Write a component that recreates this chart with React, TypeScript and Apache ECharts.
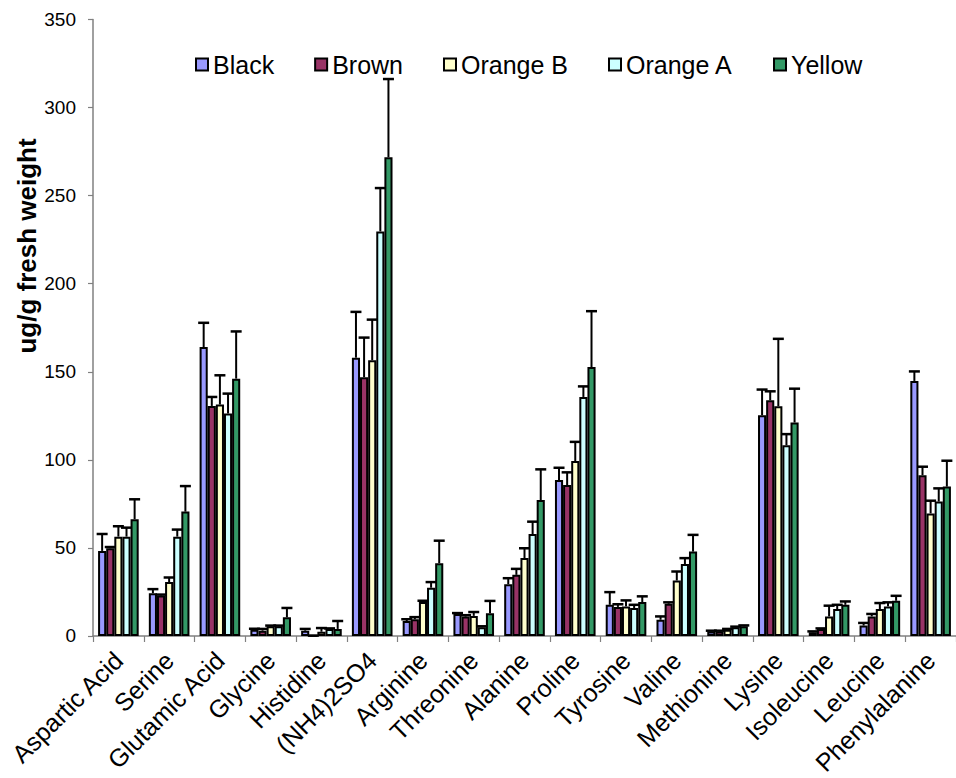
import React, { useEffect, useRef } from "react";
import * as echarts from "echarts";

const categories = [
  "Aspartic Acid", "Serine", "Glutamic Acid", "Glycine", "Histidine", "(NH4)2SO4",
  "Arginine", "Threonine", "Alanine", "Proline", "Tyrosine", "Valine",
  "Methionine", "Lysine", "Isoleucine", "Leucine", "Phenylalanine",
];

const seriesNames = ["Black", "Brown", "Orange B", "Orange A", "Yellow"];
const seriesColors = ["#9999FF", "#993366", "#FFFFCC", "#CCFFFF", "#339966"];

const blackValues = [48.3, 24.3, 164, 3.6, 3, 158, 8.5, 12.5, 29.4, 88.5, 17.7, 9.2, 2.6, 125.3, 2.1, 5.9, 144.8];
const blackErrors = [9.6, 2.3, 13.8, 0.5, 1, 26, 1, 0.5, 3.4, 7, 7.2, 1.9, 0.4, 14.6, 0.5, 1.5, 5.4];

const brownValues = [49.8, 23, 130.6, 3, 0.2, 146.9, 9.5, 11, 34.7, 85.7, 16.5, 18.3, 2.6, 133.8, 4, 11.1, 91.3];
const brownErrors = [0.7, 0.5, 5.1, 1, 0, 22.5, 1.2, 0.8, 3.4, 7.2, 1.5, 0.8, 0.4, 5.1, 0.3, 1.4, 4.8];

const orangeBValues = [56.4, 30.6, 131.4, 5.5, 2.4, 156.6, 19.3, 11.4, 44.2, 99.3, 16.8, 31.5, 3.6, 130.4, 11.1, 15.3, 69.6];
const orangeBErrors = [5.9, 2.6, 16.6, 0.4, 2.1, 23, 0.7, 2.2, 5.6, 10.9, 3.4, 5.1, 0.4, 38.3, 6.1, 3.4, 7.2];

const orangeAValues = [56.4, 56.4, 126.3, 5.5, 4, 229.7, 27.4, 5, 57.9, 135.7, 15.9, 40.8, 4.9, 108.3, 15.3, 16.8, 76.3];
const orangeAErrors = [5.1, 4, 11.3, 0.4, 0.3, 24.6, 3.2, 0.5, 7, 6, 1.8, 3.4, 0.4, 6.3, 2.4, 2.3, 7.5];

const yellowValues = [66.3, 70.6, 146.1, 10.6, 4, 271.8, 41.3, 12.9, 77.2, 152.7, 19.3, 47.9, 5.5, 121.2, 17.7, 20, 84.8];
const yellowErrors = [11.3, 14.5, 26.8, 5.3, 4.5, 44.4, 12.8, 7, 17.4, 31.7, 3.2, 9.5, 0.5, 19.2, 1.9, 2.8, 14.7];

const allValues = [blackValues, brownValues, orangeBValues, orangeAValues, yellowValues];
const allErrors = [blackErrors, brownErrors, orangeBErrors, orangeAErrors, yellowErrors];

const FONT = "'Liberation Sans', Arial, sans-serif";

export default function App() {
  const ref = useRef<HTMLDivElement>(null);

  useEffect(() => {
    if (!ref.current) return;
    const chart = echarts.init(ref.current, null, { renderer: "svg" });

    const barSeries = seriesNames.map((name, i) => ({
      name,
      type: "bar",
      data: allValues[i],
      barGap: "0%",
      barCategoryGap: "20%",
      itemStyle: { color: seriesColors[i], borderColor: "#000", borderWidth: 2 },
      z: 2,
    }));

    const errSeries = seriesNames.map((name, i) => ({
      name: name + " error",
      type: "custom",
      z: 5,
      encode: { x: 0, y: 1 },
      data: allValues[i].map((v, k) => [k, v, allErrors[i][k]]),
      renderItem: (params: any, api: any) => {
        const ci = api.value(0);
        const v = api.value(1);
        const e = api.value(2);
        const base = api.coord([ci, v]);
        const top = api.coord([ci, v + e]);
        const band = api.size([1, 0])[0];
        const bw = (band * 0.8) / 5;
        const x = base[0] + (i - 2) * bw;
        return {
          type: "group",
          children: [
            { type: "line", shape: { x1: x, y1: base[1], x2: x, y2: top[1] }, style: { stroke: "#000", lineWidth: 2 } },
            { type: "line", shape: { x1: x - 5.5, y1: top[1], x2: x + 5.5, y2: top[1] }, style: { stroke: "#000", lineWidth: 2.5 } },
          ],
        };
      },
    }));

    chart.setOption({
      animation: false,
      backgroundColor: "#fff",
      textStyle: { fontFamily: FONT },
      legend: {
        data: seriesNames,
        left: 190,
        top: 47,
        itemGap: 40,
        itemWidth: 12,
        itemHeight: 12,
        icon: "rect",
        itemStyle: { borderColor: "#000", borderWidth: 2 },
        textStyle: { fontSize: 25, color: "#000", fontFamily: FONT },
      },
      grid: { left: 93, right: -8, top: 19.5, bottom: 139, containLabel: false },
      xAxis: {
        type: "category",
        data: categories,
        axisLine: { lineStyle: { color: "#808080", width: 1.5 } },
        axisTick: { show: true, length: 6, lineStyle: { color: "#808080", width: 1.2 } },
        axisLabel: { rotate: 45, interval: 0, fontSize: 25, color: "#000", margin: 20, fontFamily: FONT },
      },
      yAxis: {
        type: "value",
        min: 0,
        max: 350,
        interval: 50,
        splitLine: { show: false },
        axisLine: { show: true, lineStyle: { color: "#808080", width: 1.5 } },
        axisTick: { show: true, length: 5, lineStyle: { color: "#808080", width: 1.2 } },
        axisLabel: { fontSize: 19, color: "#000", margin: 17, fontFamily: FONT },
      },
      graphic: [
        {
          type: "text",
          x: 27,
          y: 246,
          rotation: Math.PI / 2,
          style: {
            text: "ug/g fresh weight",
            fontSize: 26,
            fontWeight: "bold",
            fontFamily: FONT,
            fill: "#000",
            textAlign: "center",
            textVerticalAlign: "middle",
          },
        },
      ],
      series: [...barSeries, ...errSeries],
    });

    return () => chart.dispose();
  }, []);

  return (
    <div
      ref={ref}
      style={{ position: "absolute", left: 0, top: 0, width: 956, height: 778 }}
    />
  );
}
